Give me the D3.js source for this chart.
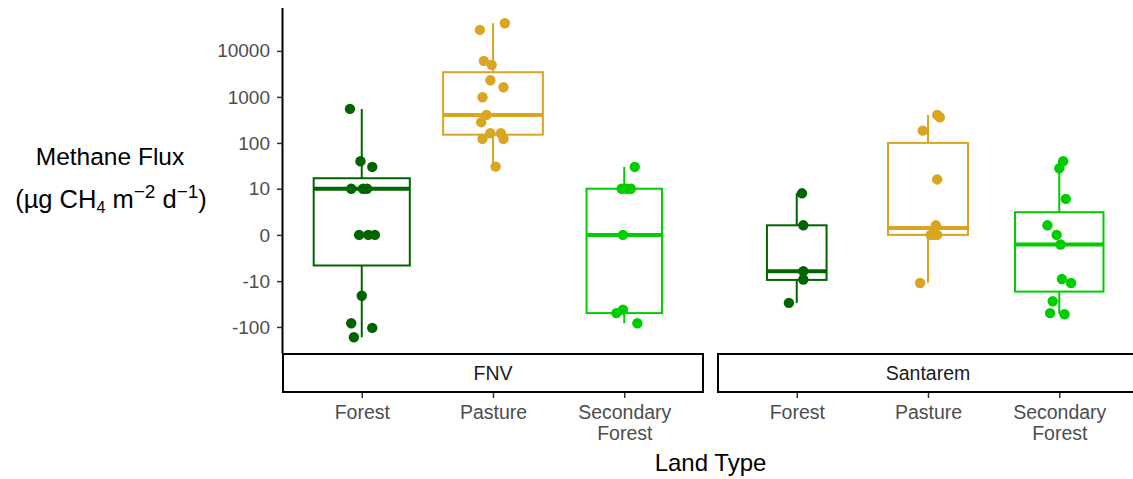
<!DOCTYPE html>
<html>
<head>
<meta charset="utf-8">
<script src="https://cdn.jsdelivr.net/npm/d3@7"></script>
<style>
body { margin: 0; background: #fff; }
text { font-family: "Liberation Sans", Arial, sans-serif; }
</style>
</head>
<body>
<svg id="chart" width="1133" height="479"></svg>
<script>
// facets and categories
var sites = ['FNV', 'Santarem'];
var landTypes = ['Forest', 'Pasture', 'Secondary Forest'];
var landColors = ['#006400', '#DAA520', '#00CD00'];
var yTicks = [-100, -10, 0, 10, 100, 1000, 10000];

// methane flux of each sample (ug CH4 m-2 d-1)
var fnvForest = [548, 40, 30, 10, 10, 10, 0, 0, 0, -21, -83, -105, -168];
var fnvPasture = [40000, 28600, 6060, 4960, 2300, 1620, 984, 406, 282, 162, 162, 122, 122, 30.5];
var fnvSecondary = [30, 10, 10, 10, 0, -42, -50, -83];
var stmForest = [7.9, 1, -6, -9.2, -30];
var stmPasture = [406, 362, 185, 16, 1, 0, 0, 0, -11];
var stmSecondary = [40, 28, 5.9, 1, 0, -1, -9, -11, -27.6, -50, -53];

// horizontal jitter of those samples (fraction of a category step)
var fnvForestJit = [-0.09, -0.01, 0.08, -0.08, 0.01, 0.04, -0.02, 0.05, 0.10, 0, -0.08, 0.08, -0.06];
var fnvPastureJit = [0.09, -0.10, -0.07, -0.01, -0.02, 0.08, -0.08, -0.05, -0.09, -0.02, 0.06, -0.08, 0.08, 0.02];
var fnvSecondaryJit = [0.08, -0.02, 0.02, 0.05, -0.01, -0.01, -0.06, 0.10];
var stmForestJit = [0.04, 0.05, 0.05, 0.05, -0.06];
var stmPastureJit = [0.07, 0.09, -0.04, 0.07, 0.06, 0.02, 0.04, 0.07, -0.06];
var stmSecondaryJit = [0.03, 0, 0.05, -0.09, -0.02, 0.01, 0.02, 0.09, -0.05, -0.07, 0.04];

// box statistics, same group order (FNV x3, then Santarem x3)
var boxLow = [-168, 30.5, -83, -30, -11, -52];
var boxQ1 = [-4.4, 151, -50, -9.4, 0, -17];
var boxMedian = [10, 406, 0, -6, 0.7, -1];
var boxQ3 = [17, 3440, 10, 1, 100, 2.8];
var boxHigh = [548, 40000, 30, 7.9, 406, 40];

var fluxes = [fnvForest, fnvPasture, fnvSecondary, stmForest, stmPasture, stmSecondary];
var jitters = [fnvForestJit, fnvPastureJit, fnvSecondaryJit, stmForestJit, stmPastureJit, stmSecondaryJit];

var groups = [];
sites.forEach(function(s, si) {
    landTypes.forEach(function(l, li) {
        var k = si * 3 + li;
        groups.push({
            site: s, land: l, color: landColors[li],
            values: fluxes[k], jitter: jitters[k],
            low: boxLow[k], q1: boxQ1[k], med: boxMedian[k], q3: boxQ3[k], high: boxHigh[k]
        });
    });
});

var svg = d3.select('#chart');

// pseudo log transform (like ggplot's pseudo_log_trans, base 10)
function plog(v) { return Math.asinh(v / 2) / Math.LN10; }

var allT = [];
fluxes.forEach(function(a) { a.forEach(function(v) { allT.push(plog(v)); }); });
var ext = d3.extent(allT);
var pad = (ext[1] - ext[0]) * 0.05;

var panelTop = 7.5, panelBottom = 353;
var y = d3.scaleLinear().domain([ext[0] - pad, ext[1] + pad]).range([panelBottom, panelTop]);

var left = 283, panelW = 420, gap = 15;
var panelX = d3.scaleBand().domain(sites)
    .range([left, left + 2 * panelW + gap])
    .paddingInner(gap / (panelW + gap));
var x = d3.scalePoint().domain(landTypes).range([0, panelX.bandwidth()]).padding(0.6);
var step = x.step();
var maxN = d3.max(fluxes, function(a) { return a.length; });

// y axis
var yAxis = d3.axisLeft(y)
    .tickValues(yTicks.map(plog))
    .tickFormat(function(d, i) { return yTicks[i]; })
    .tickSize(5).tickSizeOuter(0).tickPadding(7);
var yG = svg.append('g').attr('transform', 'translate(' + (left - 1) + ',0)').call(yAxis);
yG.select('.domain').attr('stroke', '#000').attr('stroke-width', 2);
yG.selectAll('.tick line').attr('stroke', '#333').attr('stroke-width', 1.5);
yG.selectAll('.tick text').attr('fill', '#4d4d4d').style('font-size', '19px')
    .style('font-family', '"Liberation Sans", Arial, sans-serif');

// panels
sites.forEach(function(site) {
    var g = svg.append('g').attr('transform', 'translate(' + panelX(site) + ',0)');
    var data = groups.filter(function(d) { return d.site === site; });

    var box = g.selectAll('.box').data(data).enter().append('g').attr('class', 'box');
    function bw(d) { return 0.76 * step * Math.sqrt(d.values.length / maxN); }

    box.append('line')
        .attr('x1', function(d) { return x(d.land); }).attr('x2', function(d) { return x(d.land); })
        .attr('y1', function(d) { return y(plog(d.q3)); }).attr('y2', function(d) { return y(plog(d.high)); })
        .attr('stroke', function(d) { return d.color; }).attr('stroke-width', 2);
    box.append('line')
        .attr('x1', function(d) { return x(d.land); }).attr('x2', function(d) { return x(d.land); })
        .attr('y1', function(d) { return y(plog(d.q1)); }).attr('y2', function(d) { return y(plog(d.low)); })
        .attr('stroke', function(d) { return d.color; }).attr('stroke-width', 2);
    box.append('rect')
        .attr('x', function(d) { return x(d.land) - bw(d) / 2; })
        .attr('width', bw)
        .attr('y', function(d) { return y(plog(d.q3)); })
        .attr('height', function(d) { return y(plog(d.q1)) - y(plog(d.q3)); })
        .attr('fill', '#fff')
        .attr('stroke', function(d) { return d.color; }).attr('stroke-width', 2);
    box.append('line')
        .attr('x1', function(d) { return x(d.land) - bw(d) / 2; })
        .attr('x2', function(d) { return x(d.land) + bw(d) / 2; })
        .attr('y1', function(d) { return y(plog(d.med)); }).attr('y2', function(d) { return y(plog(d.med)); })
        .attr('stroke', function(d) { return d.color; }).attr('stroke-width', 4);

    // jittered samples
    box.each(function(d) {
        d3.select(this).selectAll('circle')
            .data(d.values.map(function(v, i) { return {v: v, j: d.jitter[i]}; }))
            .enter().append('circle')
            .attr('cx', function(p) { return x(d.land) + p.j * step; })
            .attr('cy', function(p) { return y(plog(p.v)); })
            .attr('r', 5.2)
            .attr('fill', d.color);
    });

    // strip
    g.append('rect')
        .attr('x', 0).attr('y', panelBottom + 1)
        .attr('width', panelX.bandwidth()).attr('height', 38)
        .attr('fill', '#fff').attr('stroke', '#000').attr('stroke-width', 2);
    g.append('text')
        .attr('x', panelX.bandwidth() / 2).attr('y', panelBottom + 27)
        .attr('text-anchor', 'middle')
        .style('font-size', '19.5px').attr('fill', '#1a1a1a')
        .text(site);

    // x axis under strip
    var xG = g.append('g').attr('transform', 'translate(0,' + (panelBottom + 40) + ')')
        .call(d3.axisBottom(x).tickSize(5).tickPadding(7));
    xG.select('.domain').remove();
    xG.selectAll('.tick line').attr('stroke', '#333').attr('stroke-width', 1.5);
    xG.selectAll('.tick text')
        .attr('fill', '#4d4d4d').style('font-size', '19.5px')
        .style('font-family', '"Liberation Sans", Arial, sans-serif')
        .each(function(d) {
            var t = d3.select(this);
            var words = d.split(' ');
            t.text(null);
            words.forEach(function(w, i) {
                t.append('tspan').attr('x', 0).attr('dy', i === 0 ? '0.71em' : '1.08em').text(w);
            });
        });
});

// axis titles
svg.append('text')
    .attr('x', (left + panelX('Santarem') + panelW) / 2).attr('y', 471)
    .attr('text-anchor', 'middle').style('font-size', '24px').attr('fill', '#000')
    .text('Land Type');

svg.append('text')
    .attr('x', 110).attr('y', 165)
    .attr('text-anchor', 'middle').style('font-size', '24.5px').attr('fill', '#000')
    .text('Methane Flux');

var unit = svg.append('text')
    .attr('x', 111).attr('y', 208)
    .attr('text-anchor', 'middle').style('font-size', '25.5px').attr('fill', '#000');
unit.append('tspan').text('(µg CH');
unit.append('tspan').attr('dy', 5).style('font-size', '16px').text('4');
unit.append('tspan').attr('dy', -5).text(' m');
unit.append('tspan').attr('dy', -10).style('font-size', '19px').text('\u22122');
unit.append('tspan').attr('dy', 10).text(' d');
unit.append('tspan').attr('dy', -10).style('font-size', '19px').text('\u22121');
unit.append('tspan').attr('dy', 10).text(')');
</script>
</body>
</html>
